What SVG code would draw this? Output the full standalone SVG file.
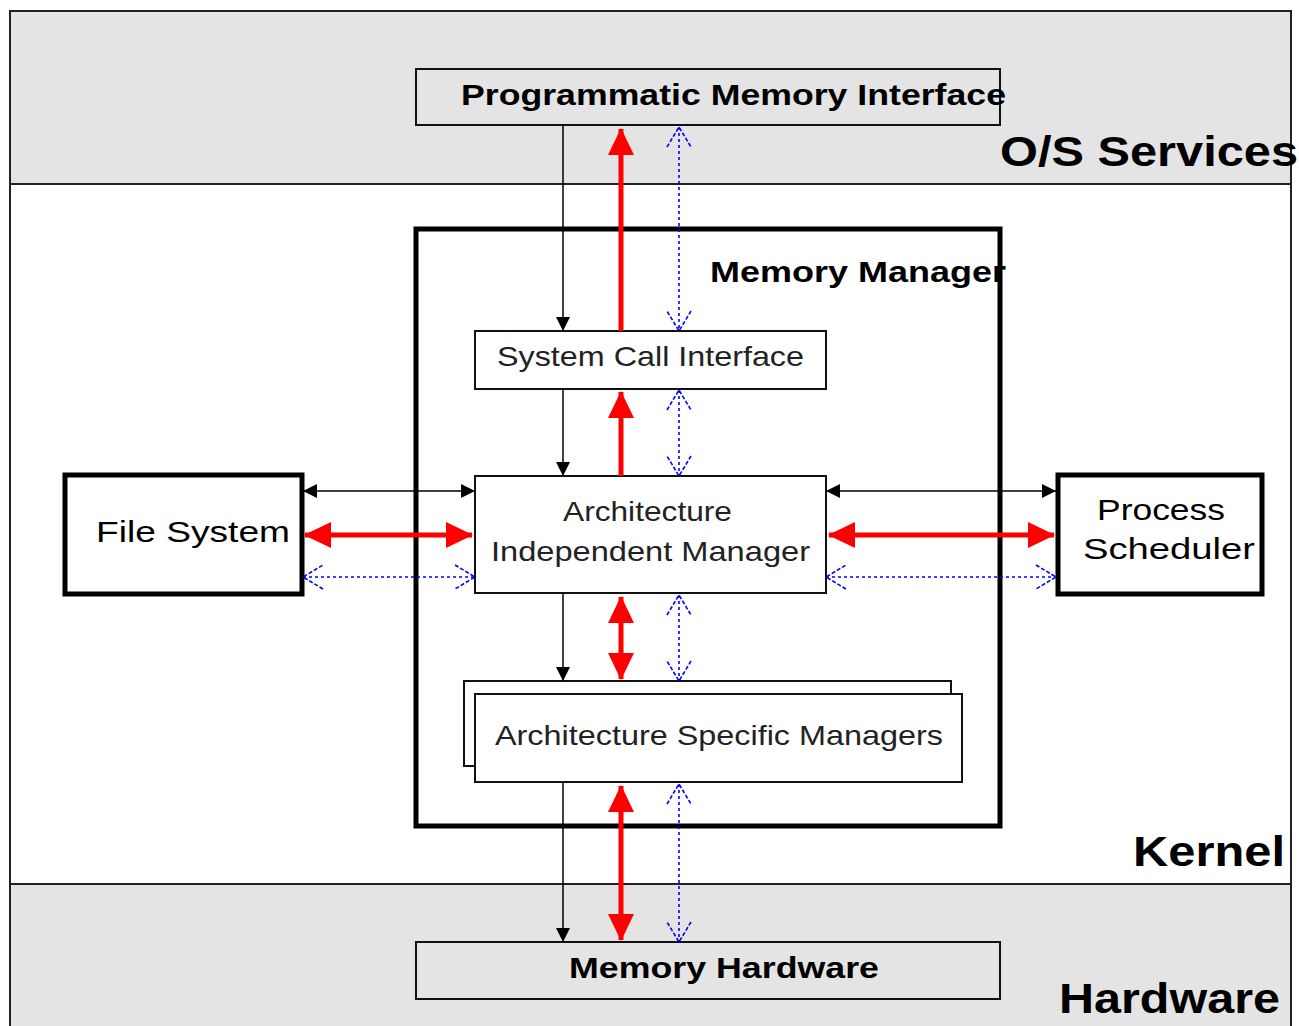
<svg xmlns="http://www.w3.org/2000/svg" width="1299" height="1026" viewBox="0 0 1299 1026">
<style>
.band{stroke:#222;stroke-width:2}
.box{fill:#fff;stroke:#111;stroke-width:2}
.gbox{fill:#e4e4e4;stroke:#111;stroke-width:2}
.thick{fill:#fff;stroke:#000;stroke-width:5}
.big{font-family:"Liberation Sans",Arial,sans-serif;font-weight:bold;font-size:42px;fill:#000}
.hdr{font-family:"Liberation Sans",Arial,sans-serif;font-weight:bold;font-size:30px;fill:#000}
.lbl{font-family:"Liberation Sans",Arial,sans-serif;font-size:29px;fill:#000}
.thin{font-family:"Liberation Sans",Arial,sans-serif;font-size:28px;fill:#222}
.blk{stroke:#000;stroke-width:1.5;fill:none}
.red{stroke:#ff0000;stroke-width:5;fill:none}
.blu{stroke:#0000ff;stroke-width:1.6;fill:none;stroke-dasharray:3 3}
</style>
<defs>
<marker id="hb" markerUnits="userSpaceOnUse" markerWidth="20" markerHeight="20" refX="0" refY="0" orient="auto-start-reverse" overflow="visible"><path d="M0,0 L-14,-7 L-14,7 Z" fill="#000"/></marker>
<marker id="hr" markerUnits="userSpaceOnUse" markerWidth="30" markerHeight="30" refX="0" refY="0" orient="auto-start-reverse" overflow="visible"><path d="M1,0 L-26,-13 L-26,13 Z" fill="#ff0000"/></marker>
<marker id="hu" markerUnits="userSpaceOnUse" markerWidth="30" markerHeight="30" refX="0" refY="0" orient="auto-start-reverse" overflow="visible"><path d="M-20,-12 L0,0 L-20,12" fill="none" stroke="#0000ff" stroke-width="1.6" stroke-dasharray="4 2"/></marker>
</defs>

<g id="bands">
<rect x="10" y="11" width="1281" height="173" fill="#e4e4e4" class="band"/>
<rect x="10" y="184" width="1281" height="700" fill="#fff" class="band"/>
<rect x="10" y="884" width="1281" height="150" fill="#e4e4e4" class="band"/>
<text class="big" x="1000" y="166" textLength="298" lengthAdjust="spacingAndGlyphs">O/S Services</text>
<text class="big" x="1133" y="866" textLength="152" lengthAdjust="spacingAndGlyphs">Kernel</text>
<text class="big" x="1059" y="1013" textLength="221" lengthAdjust="spacingAndGlyphs">Hardware</text>
</g>

<g id="memory-manager">
<rect x="416" y="229" width="584" height="597" fill="#fff" stroke="#000" stroke-width="5"/>
<text class="hdr" x="710" y="282" textLength="296" lengthAdjust="spacingAndGlyphs">Memory Manager</text>
</g>

<g id="programmatic-memory-interface">
<rect x="416" y="69" width="584" height="56" class="gbox"/>
<text class="hdr" x="461" y="105" textLength="545" lengthAdjust="spacingAndGlyphs">Programmatic Memory Interface</text>
</g>

<g id="system-call-interface">
<rect x="475" y="331" width="351" height="58" class="box"/>
<text class="thin" x="497" y="366" textLength="307" lengthAdjust="spacingAndGlyphs">System Call Interface</text>
</g>

<g id="architecture-independent-manager">
<rect x="475" y="476" width="351" height="117" class="box"/>
<text class="thin" x="563" y="521" textLength="169" lengthAdjust="spacingAndGlyphs">Architecture</text>
<text class="thin" x="491" y="561" textLength="319" lengthAdjust="spacingAndGlyphs">Independent Manager</text>
</g>

<g id="architecture-specific-managers">
<rect x="464" y="681" width="487" height="85" class="box"/>
<rect x="475" y="694" width="487" height="88" class="box"/>
<text class="thin" x="495" y="745" textLength="448" lengthAdjust="spacingAndGlyphs">Architecture Specific Managers</text>
</g>

<g id="memory-hardware">
<rect x="416" y="942" width="584" height="57" class="gbox"/>
<text class="hdr" x="569" y="978" textLength="310" lengthAdjust="spacingAndGlyphs">Memory Hardware</text>
</g>

<g id="file-system">
<rect x="65" y="475" width="237" height="119" class="thick"/>
<text class="lbl" x="96" y="542" textLength="194" lengthAdjust="spacingAndGlyphs">File System</text>
</g>

<g id="process-scheduler">
<rect x="1058" y="475" width="204" height="119" class="thick"/>
<text class="lbl" x="1097" y="520" textLength="128" lengthAdjust="spacingAndGlyphs">Process</text>
<text class="lbl" x="1083" y="559" textLength="172" lengthAdjust="spacingAndGlyphs">Scheduler</text>
</g>

<g id="connectors">
<path class="blk" d="M563 125 V331" marker-end="url(#hb)"/>
<path class="blk" d="M563 389 V476" marker-end="url(#hb)"/>
<path class="blk" d="M563 593 V681" marker-end="url(#hb)"/>
<path class="blk" d="M563 782 V942" marker-end="url(#hb)"/>
<path class="red" d="M621 331 V129" marker-end="url(#hr)"/>
<path class="red" d="M621 476 V392" marker-end="url(#hr)"/>
<path class="red" d="M621 597 V679" marker-start="url(#hr)" marker-end="url(#hr)"/>
<path class="red" d="M621 786 V940" marker-start="url(#hr)" marker-end="url(#hr)"/>
<path class="blu" d="M679 127 V331" marker-start="url(#hu)" marker-end="url(#hu)"/>
<path class="blu" d="M679 390 V476" marker-start="url(#hu)" marker-end="url(#hu)"/>
<path class="blu" d="M679 595 V681" marker-start="url(#hu)" marker-end="url(#hu)"/>
<path class="blu" d="M679 784 V942" marker-start="url(#hu)" marker-end="url(#hu)"/>
<path class="blk" d="M303 491 H475" marker-start="url(#hb)" marker-end="url(#hb)"/>
<path class="red" d="M305 535 H472" marker-start="url(#hr)" marker-end="url(#hr)"/>
<path class="blu" d="M303 577 H475" marker-start="url(#hu)" marker-end="url(#hu)"/>
<path class="blk" d="M826 491 H1056" marker-start="url(#hb)" marker-end="url(#hb)"/>
<path class="red" d="M829 535 H1054" marker-start="url(#hr)" marker-end="url(#hr)"/>
<path class="blu" d="M826 577 H1056" marker-start="url(#hu)" marker-end="url(#hu)"/>
</g>
</svg>
